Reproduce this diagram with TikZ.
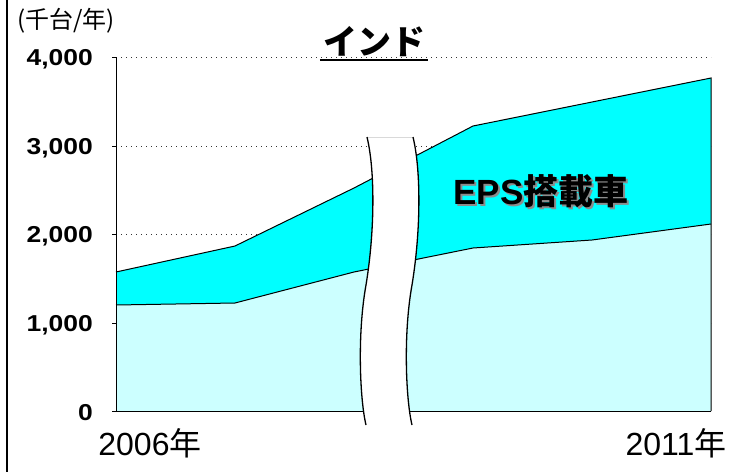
\documentclass[tikz,border=0pt]{standalone}
\usepackage{fontspec}
\setmainfont{Liberation Sans}
\newfontfamily\jp{Noto Sans CJK JP}
\newfontfamily\wide{Liberation Sans}[FakeStretch=1.15]
\usepackage{tikz}
\definecolor{epscol}{RGB}{0,255,255}
\definecolor{basecol}{RGB}{204,255,255}
\tikzset{gridline/.style={line width=.7pt,dash pattern=on 1.4pt off 3.6pt,black!80},
  ylab/.style={anchor=east,inner sep=0pt,font=\fontsize{23}{26}\selectfont\wide\bfseries},
  yearlab/.style={inner sep=0pt,font=\fontsize{32}{35}\selectfont},
  edge/.style={line width=1pt}}

\begin{document}
\begin{tikzpicture}[x=1pt,y=-1pt]
\useasboundingbox (0,0) rectangle (734,472);
\draw[line width=1.6pt] (7,0) -- (7,472);
\foreach \y in {57,146,234,323} \draw[gridline] (116,\y) -- (711,\y);

\fill[basecol] (116,411) -- (116,305) -- (235,303) -- (354,272) -- (473,248) -- (592,240) -- (711,224) -- (711,411) -- cycle;
\fill[epscol] (116,305) -- (116,272) -- (235,246) -- (354,188) -- (473,126) -- (592,102) -- (711,78) -- (711,224) -- (592,240) -- (473,248) -- (354,272) -- (235,303) -- cycle;
\draw[edge] (116,272) -- (235,246) -- (354,188) -- (473,126) -- (592,102) -- (711,78) -- (711,411);
\draw[edge] (116,305) -- (235,303) -- (354,272) -- (473,248) -- (592,240) -- (711,224);
\draw[edge] (116,57) -- (116,411) -- (711,411);
\foreach \y in {57,146,234,323,411} \draw[edge] (112,\y) -- (116,\y);

\fill[white] (367,137) .. controls (375,170) and (375,230) .. (366,285) .. controls (357,335) and (360,400) .. (366,425) -- (412,425) .. controls (406,400) and (403,335) .. (412,285) .. controls (421,230) and (421,170) .. (413,137) -- cycle;
\draw[black!15,line width=1pt] (367,137) -- (413,137);
\draw[line width=1.3pt] (367,137) .. controls (375,170) and (375,230) .. (366,285) .. controls (357,335) and (360,400) .. (366,425);
\draw[line width=1.3pt] (413,137) .. controls (421,170) and (421,230) .. (412,285) .. controls (403,335) and (406,400) .. (412,425);

\node[ylab] (Y4) at (93,59) {4,000};
\node[ylab] (Y3) at (93,148) {3,000};
\node[ylab] (Y2) at (93,236) {2,000};
\node[ylab] (Y1) at (93,325) {1,000};
\node[ylab] (Y0) at (93,413) {0};

\node[inner sep=0pt,font=\fontsize{24}{27}\selectfont\jp] (U) at (66,21) {(千台/年)};
\node[inner sep=0pt,font=\fontsize{34}{37}\selectfont\jp\bfseries] (T) at (374,42) {インド};
\draw[line width=2pt] ([xshift=-3pt,yshift=-3pt]T.south west) -- ([xshift=3pt,yshift=-3pt]T.south east);

\node[inner sep=0pt,text=black!45,font=\fontsize{35}{40}\selectfont\bfseries] at (543,193) {EPS\jp 搭載車};
\node[inner sep=0pt,font=\fontsize{35}{40}\selectfont\bfseries] (E) at (541,191) {EPS\jp 搭載車};

\node[yearlab] (X0) at (150,443) {2006\jp 年};
\node[yearlab] (X5) at (676,443) {2011\jp 年};
\end{tikzpicture}
\end{document}
